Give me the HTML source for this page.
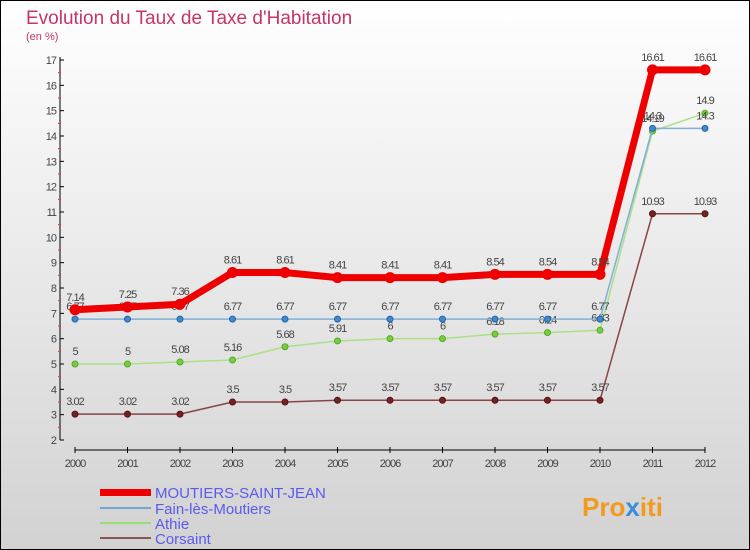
<!DOCTYPE html>
<html><head><meta charset="utf-8"><style>
body{margin:0}
#c{width:750px;height:550px;position:relative;overflow:hidden;font-family:"Liberation Sans",sans-serif}
</style></head><body>
<div id="c">
<svg id="s" width="750" height="550" xmlns="http://www.w3.org/2000/svg">
<defs><linearGradient id="bg" x1="0" y1="0" x2="0" y2="1"><stop offset="0" stop-color="#ffffff"/><stop offset="1" stop-color="#d2d2d2"/></linearGradient></defs>
<rect x="0.5" y="0.5" width="749" height="549" fill="url(#bg)" stroke="#000"/>
<text x="26" y="24" font-size="19" fill="#c8336a">Evolution du Taux de Taxe d'Habitation</text>
<text x="26" y="40" font-size="11" fill="#c8336a">(en %)</text>
<g id="axes"></g><g id="series"></g>
<g>
<rect x="100" y="489" width="51" height="7" fill="#e00"/>
<text x="155" y="498" font-size="15" fill="#5a5aee">MOUTIERS-SAINT-JEAN</text>
<rect x="100" y="507" width="51" height="2" fill="#6fa8d0"/>
<text x="155" y="514" font-size="15" fill="#5a5aee">Fain-lès-Moutiers</text>
<rect x="100" y="522" width="51" height="2" fill="#99dd77"/>
<text x="155" y="529" font-size="15" fill="#5a5aee">Athie</text>
<rect x="100" y="537" width="51" height="2" fill="#885555"/>
<text x="155" y="544" font-size="15" fill="#5a5aee">Corsaint</text>
</g>
<text x="582" y="516" font-size="26" font-weight="bold" fill="#f39a1e">Pro<tspan fill="#3a8fd8">x</tspan>iti</text>
</svg>
</div>
<script>
const years=[2000,2001,2002,2003,2004,2005,2006,2007,2008,2009,2010,2011,2012];
const yTicks=[2,3,4,5,6,7,8,9,10,11,12,13,14,15,16,17];
const moutiers=[7.14,7.25,7.36,8.61,8.61,8.41,8.41,8.41,8.54,8.54,8.54,16.61,16.61];
const fain=[6.77,6.77,6.77,6.77,6.77,6.77,6.77,6.77,6.77,6.77,6.77,14.3,14.3];
const athie=[5,5,5.08,5.16,5.68,5.91,6,6,6.18,6.24,6.33,14.19,14.9];
const corsaint=[3.02,3.02,3.02,3.5,3.5,3.57,3.57,3.57,3.57,3.57,3.57,10.93,10.93];
const NS="http://www.w3.org/2000/svg";
const X=i=>75+i*52.5, Y=v=>440-(v-2)*(380/15);
function mk(t,a,p){const e=document.createElementNS(NS,t);for(const k in a)e.setAttribute(k,a[k]);p.appendChild(e);return e;}
const ax=document.getElementById('axes');
let l=mk('line',{x1:60,y1:57,x2:60,y2:440,stroke:'#000'},ax);


l=mk('line',{x1:75,y1:450,x2:705,y2:450,stroke:'#000'},ax);


yTicks.forEach(v=>{
 mk('line',{x1:60,y1:Y(v),x2:64,y2:Y(v),stroke:'#000'},ax);
 if(v<17)mk('line',{x1:58,y1:Y(v+0.5),x2:61,y2:Y(v+0.5),stroke:'#e33'},ax);
 const t=mk('text',{x:56,y:Y(v)+4,'font-size':11,fill:'#444','text-anchor':'end','letter-spacing':'-1'},ax);
 t.textContent=v;
 
 
});
years.forEach((y,i)=>{
 mk('line',{x1:X(i),y1:447,x2:X(i),y2:453,stroke:'#000'},ax);
 const t=mk('text',{x:X(i),y:467,'font-size':11,fill:'#444','text-anchor':'middle','letter-spacing':'-1'},ax);
 t.textContent=y;
 
 
});
const sg=document.getElementById('series');
function series(d,name,col,w,dot,dotc,r){
 const g=mk('g',{},sg);
 
 
 mk('polyline',{points:d.map((v,i)=>X(i)+','+Y(v)).join(' '),fill:'none',stroke:col,'stroke-width':w,'stroke-linejoin':'round'},g);
 d.forEach((v,i)=>{
  const c=mk('circle',{cx:X(i),cy:Y(v),r:r,fill:dot,stroke:dotc,'stroke-width':1},g);
  
  
  const t=mk('text',{x:X(i),y:Y(v)-9,'font-size':11,fill:'#444','text-anchor':'middle','letter-spacing':'-1'},g);
  t.textContent=v;
  
  
 });
}
series(corsaint,'corsaint','#884444',1.5,'#772222','#551111',3);
series(athie,'athie','#aae088',1.5,'#77cc44','#55aa22',3);
series(fain,'fain','#80b0d8',1.5,'#4488cc','#2266aa',3);
series(moutiers,'moutiers','#ee0000',7,'#ee0000','#ee0000',5);
</script>
</body></html>
